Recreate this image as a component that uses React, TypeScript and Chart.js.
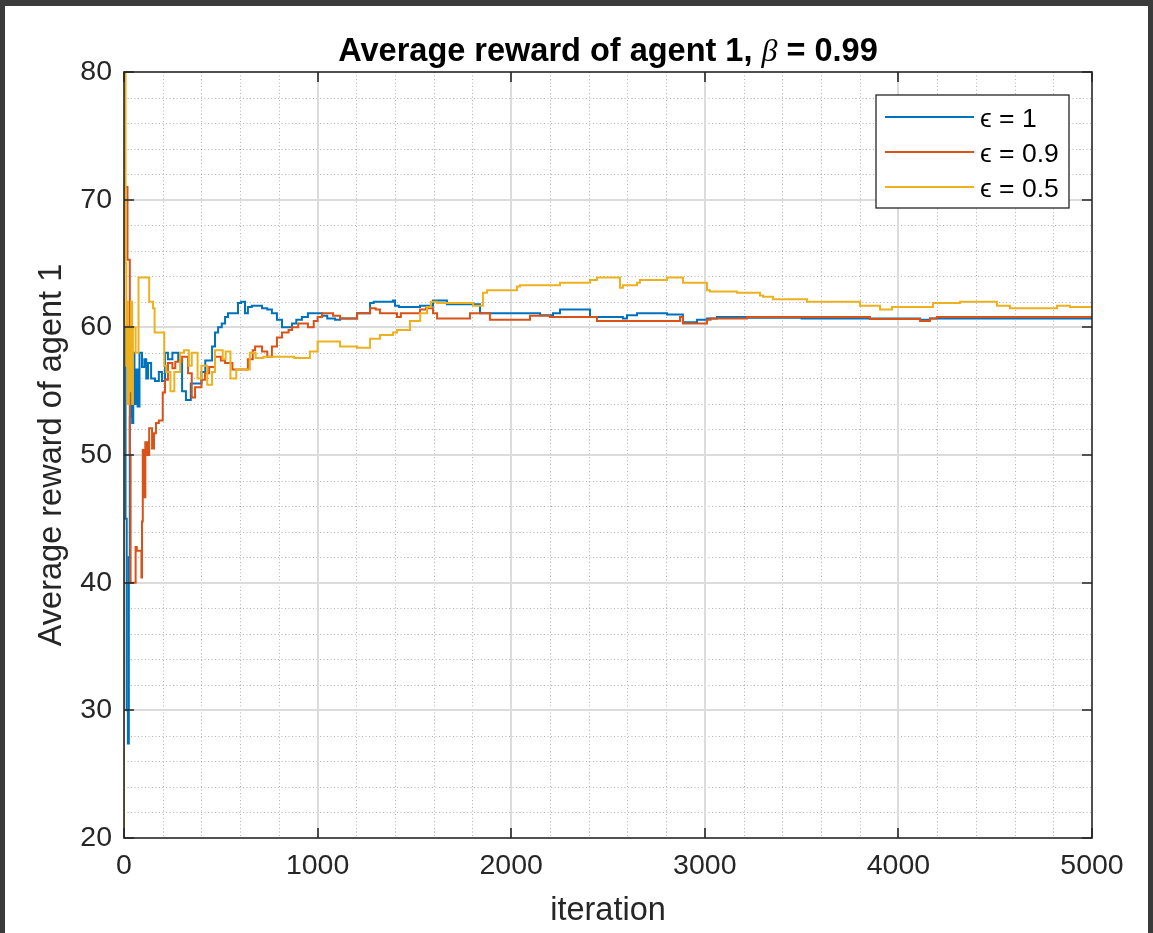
import React, { useEffect, useRef } from "react";
import { Chart, registerables } from "chart.js";

Chart.register(...registerables);

// ---------- text ----------
const TITLE_MAIN = "Average reward of agent 1, ";
const TITLE_BETA = "β";
const TITLE_TAIL = " = 0.99";
const X_LABEL = "iteration";
const Y_LABEL = "Average reward of agent 1";
const LEGEND_LABELS = ["ϵ = 1", "ϵ = 0.9", "ϵ = 0.5"];

// ---------- axes ----------
const X_MIN = 0;
const X_MAX = 5000;
const X_STEP = 1000;
const X_MINOR = 200;
const Y_MIN = 20;
const Y_MAX = 80;
const Y_STEP = 10;
const Y_MINOR = 2;

// ---------- series: epsilon = 1 ----------
const eps1Iter = [
  0, 8, 14, 20, 25, 30, 36, 42, 48, 54, 62, 70, 80, 93, 105, 115, 124, 140, 160, 180,
  196, 212, 227, 250, 280, 300, 320, 345, 367, 400, 420, 455, 470, 486, 505, 522, 537, 560, 589, 605,
  625, 640, 660, 677, 713, 740, 764, 790, 816, 840, 868, 890, 919, 950, 1000, 1023, 1050, 1090, 1116, 1160,
  1204, 1230, 1271, 1290, 1389, 1400, 1420, 1529, 1596, 1610, 1668, 1700, 1839, 1850, 2149, 2216, 2252, 2288, 2407, 2443,
  2577, 2598, 2650, 2805, 2887, 2960, 3011, 3063, 3218, 3500, 3853, 4112, 4163, 4850, 5000,
];
const eps1Reward = [
  58, 60, 45, 30, 27.4, 42, 53, 57, 52.5, 58, 54, 56.7, 53.8, 58, 56.9, 57.5, 56, 57.2, 56, 55.8,
  56.5, 55.8, 58, 57.5, 58, 57.4, 55, 54.3, 55.6, 55.6, 56.5, 57.4, 58.5, 59.6, 60, 60.3, 60.8, 61.1, 61.1, 61.9,
  62, 61.1, 61.6, 61.7, 61.7, 61.5, 61.4, 61.1, 60.6, 60, 60, 60.3, 60.6, 60.8, 61.1, 61.1, 60.9, 60.7, 60.6, 60.7,
  60.7, 61.1, 61.1, 61.9, 62, 62.1, 61.7, 61.6, 61.7, 62.1, 62.1, 61.8, 61.8, 61.1, 61.1, 60.95, 61.1, 61.4, 61.4, 60.8,
  60.8, 60.7, 60.95, 61.1, 61.0, 60.4, 60.6, 60.7, 60.8, 60.75, 60.7, 60.7, 60.6, 60.7, 60.7,
];

// ---------- series: epsilon = 0.9 ----------
const eps09Iter = [
  0, 18, 22, 30, 34, 37, 60, 66, 90, 93, 97, 106, 110, 120, 130, 145, 155, 165, 180, 200,
  212, 227, 250, 265, 300, 331, 350, 367, 400, 418, 440, 470, 500, 522, 560, 589, 640, 665, 677, 713,
  740, 764, 790, 816, 850, 868, 900, 950, 980, 1000, 1023, 1050, 1080, 1116, 1204, 1230, 1271, 1300, 1322, 1410,
  1430, 1462, 1529, 1560, 1596, 1617, 1668, 1787, 1800, 1890, 1900, 2097, 2110, 2200, 2216, 2443, 2526, 2872, 2887, 2908,
  3011, 3030, 3218, 3492, 3853, 3870, 4112, 4163, 4199, 4215, 5000,
];
const eps09Reward = [
  71, 71, 65.3, 65.3, 50, 40, 40, 42.8, 42.5, 40.4, 44.8, 50.4, 46.7, 51, 50, 52.1, 50.5, 51.7, 52.5, 52.7,
  54.9, 55.9, 57.2, 56.8, 57.3, 57.7, 56.4, 54.5, 55.3, 55.9, 56.4, 56.9, 57.7, 57.4, 57.2, 56.7, 56.7, 57.5, 58.2, 58.5,
  58.1, 57.7, 58.5, 59.2, 59.6, 59.8, 60, 60.3, 60, 60.5, 60.8, 61.1, 61.1, 60.9, 60.7, 61.1, 61.1, 61.5, 61.4, 61.1,
  60.8, 61.1, 61.1, 61.4, 61.5, 61.1, 60.7, 60.7, 61.1, 61.1, 60.6, 60.6, 60.9, 60.9, 60.8, 60.8, 60.5, 60.5, 60.8, 60.3,
  60.3, 60.6, 60.7, 60.8, 60.8, 60.65, 60.65, 60.5, 60.7, 60.8, 60.8,
];

// ---------- series: epsilon = 0.5 ----------
const eps05Iter = [
  0, 3, 8, 12, 16, 20, 25, 30, 36, 42, 46, 52, 60, 75, 93, 130, 135, 150, 158, 165,
  208, 218, 240, 260, 290, 310, 335, 350, 380, 400, 430, 455, 470, 510, 525, 550, 580, 610, 650, 680,
  720, 780, 880, 960, 1000, 1012, 1116, 1204, 1271, 1322, 1389, 1410, 1477, 1530, 1565, 1585, 1617, 1668, 1803, 1854,
  1875, 1942, 2030, 2045, 2113, 2252, 2288, 2407, 2443, 2562, 2577, 2650, 2665, 2805, 2887, 2908, 3011, 3027, 3166, 3285,
  3301, 3352, 3528, 3802, 3905, 3967, 3982, 4179, 4199, 4318, 4509, 4576, 4819, 4824, 4886, 4897, 5000,
];
const eps05Reward = [
  20, 80, 80, 65, 57, 62, 54, 60, 55, 62, 54, 60, 60, 58, 63.9, 63.9, 62, 62, 61.5, 59.6,
  59.6, 57, 56.5, 55, 56.5, 58, 58.2, 57, 58, 56, 57, 55.5, 56.5, 58.2, 57.5, 58.1, 56, 56.7, 56.7, 58,
  57.6, 57.7, 57.7, 57.6, 58.1, 58.9, 58.9, 58.5, 58.4, 59.1, 59.4, 59.6, 59.8, 60.5, 61.1, 61.6, 62, 61.9, 61.9, 61.7,
  62.7, 62.9, 62.9, 63.2, 63.3, 63.3, 63.5, 63.5, 63.7, 63.9, 63.1, 63.3, 63.5, 63.7, 63.9, 63.5, 63.5, 62.9, 62.8, 62.7,
  62.5, 62.4, 62.2, 62.0, 61.7, 61.4, 61.6, 61.6, 61.9, 61.9, 62, 61.7, 61.5, 61.7, 61.7, 61.6, 61.6,
];

const COLORS = ["#0072BD", "#D95319", "#EDB120"];
const AXIS_COLOR = "#262626";
const SANS = '"Liberation Sans", Arial, Helvetica, sans-serif';

const toPoints = (xs: number[], ys: number[]) => xs.map((x, i) => ({ x, y: ys[i] }));

const matlabPlugin = {
  id: "matlabAxes",
  beforeDatasetsDraw(chart: any) {
    const { ctx, chartArea: a, scales } = chart;
    const x = scales.x;
    const y = scales.y;
    ctx.save();
    // minor dotted grid
    ctx.strokeStyle = "rgba(38,38,38,0.35)";
    ctx.lineWidth = 1;
    ctx.setLineDash([1, 2.5]);
    ctx.beginPath();
    for (let v = X_MIN + X_MINOR; v < X_MAX; v += X_MINOR) {
      if (v % X_STEP === 0) continue;
      const px = Math.round(x.getPixelForValue(v)) + 0.5;
      ctx.moveTo(px, a.top);
      ctx.lineTo(px, a.bottom);
    }
    for (let v = Y_MIN + Y_MINOR; v < Y_MAX; v += Y_MINOR) {
      if (v % Y_STEP === 0) continue;
      const py = Math.round(y.getPixelForValue(v)) + 0.5;
      ctx.moveTo(a.left, py);
      ctx.lineTo(a.right, py);
    }
    ctx.stroke();
    // major grid
    ctx.setLineDash([]);
    ctx.strokeStyle = "#dcdcdc";
    ctx.lineWidth = 2;
    ctx.beginPath();
    for (let v = X_MIN + X_STEP; v < X_MAX; v += X_STEP) {
      const px = Math.round(x.getPixelForValue(v));
      ctx.moveTo(px, a.top);
      ctx.lineTo(px, a.bottom);
    }
    for (let v = Y_MIN + Y_STEP; v < Y_MAX; v += Y_STEP) {
      const py = Math.round(y.getPixelForValue(v));
      ctx.moveTo(a.left, py);
      ctx.lineTo(a.right, py);
    }
    ctx.stroke();
    ctx.restore();
  },
  afterDatasetsDraw(chart: any) {
    const { ctx, chartArea: a, scales } = chart;
    const x = scales.x;
    const y = scales.y;
    ctx.save();
    // box
    ctx.strokeStyle = AXIS_COLOR;
    ctx.lineWidth = 1.6;
    ctx.strokeRect(a.left, a.top, a.right - a.left, a.bottom - a.top);
    // ticks on all sides
    const tl = 10;
    ctx.beginPath();
    for (let v = X_MIN; v <= X_MAX; v += X_STEP) {
      const px = Math.round(x.getPixelForValue(v));
      ctx.moveTo(px, a.bottom);
      ctx.lineTo(px, a.bottom - tl);
      ctx.moveTo(px, a.top);
      ctx.lineTo(px, a.top + tl);
    }
    for (let v = Y_MIN; v <= Y_MAX; v += Y_STEP) {
      const py = Math.round(y.getPixelForValue(v));
      ctx.moveTo(a.left, py);
      ctx.lineTo(a.left + tl, py);
      ctx.moveTo(a.right, py);
      ctx.lineTo(a.right - tl, py);
    }
    ctx.stroke();

    // legend
    const lw = 193;
    const lh = 113;
    const lx = a.right - 23 - lw;
    const ly = a.top + 23;
    ctx.fillStyle = "#ffffff";
    ctx.fillRect(lx, ly, lw, lh);
    ctx.strokeStyle = AXIS_COLOR;
    ctx.lineWidth = 1.3;
    ctx.strokeRect(lx, ly, lw, lh);
    ctx.font = `26.5px ${SANS}, "DejaVu Sans"`;
    ctx.textBaseline = "middle";
    ctx.textAlign = "left";
    LEGEND_LABELS.forEach((lab, i) => {
      const rowY = ly + 22 + i * 35;
      ctx.strokeStyle = COLORS[i];
      ctx.lineWidth = 2;
      ctx.beginPath();
      ctx.moveTo(lx + 9, rowY);
      ctx.lineTo(lx + 98, rowY);
      ctx.stroke();
      ctx.fillStyle = "#000000";
      ctx.fillText(lab, lx + 104, rowY + 3);
    });
    ctx.restore();
  },
  afterDraw(chart: any) {
    const { ctx, chartArea: a } = chart;
    ctx.save();
    const fMain = `bold 32.5px ${SANS}`;
    const fBeta = `italic 32px "Liberation Serif", "DejaVu Serif", serif`;
    ctx.font = fMain;
    const w1 = ctx.measureText(TITLE_MAIN).width;
    const w3 = ctx.measureText(TITLE_TAIL).width;
    ctx.font = fBeta;
    const w2 = ctx.measureText(TITLE_BETA).width;
    const total = w1 + w2 + w3;
    let cx = (a.left + a.right) / 2 - total / 2;
    const baseY = 61;
    ctx.fillStyle = "#000000";
    ctx.textBaseline = "alphabetic";
    ctx.textAlign = "left";
    ctx.font = fMain;
    ctx.fillText(TITLE_MAIN, cx, baseY);
    cx += w1;
    ctx.font = fBeta;
    ctx.fillText(TITLE_BETA, cx, baseY);
    cx += w2;
    ctx.font = fMain;
    ctx.fillText(TITLE_TAIL, cx, baseY);
    ctx.restore();
  },
};

const lineStyle = (i: number) => ({
  borderColor: COLORS[i],
  borderWidth: 2,
  pointRadius: 0,
  fill: false,
  tension: 0,
  stepped: "after",
});

export default function App() {
  const ref = useRef<HTMLCanvasElement>(null);
  useEffect(() => {
    if (!ref.current) return;
    const chart = new Chart(ref.current, {
      type: "line",
      data: {
        datasets: [
          { label: LEGEND_LABELS[0], data: toPoints(eps1Iter, eps1Reward), ...lineStyle(0), order: 3 },
          { label: LEGEND_LABELS[1], data: toPoints(eps09Iter, eps09Reward), ...lineStyle(1), order: 2 },
          { label: LEGEND_LABELS[2], data: toPoints(eps05Iter, eps05Reward), ...lineStyle(2), order: 1 },
        ],
      },
      options: {
        animation: false,
        responsive: false,
        maintainAspectRatio: false,
        layout: { padding: { left: 0, top: 72, right: 61, bottom: 0 } },
        plugins: {
          legend: { display: false },
          tooltip: { enabled: false },
          title: { display: false },
        },
        scales: {
          x: {
            type: "linear",
            min: X_MIN,
            max: X_MAX,
            afterFit: (s: any) => {
              s.height = 95;
            },
            grid: { display: false, drawTicks: false },
            border: { display: false },
            ticks: {
              stepSize: X_STEP,
              padding: 11,
              color: AXIS_COLOR,
              maxRotation: 0,
              autoSkip: false,
              callback: (v: any) => String(v),
              font: { family: SANS, size: 28.5, lineHeight: 1.2 },
            },
            title: {
              display: true,
              text: X_LABEL,
              color: AXIS_COLOR,
              font: { family: SANS, size: 32.5, lineHeight: 1.2 },
              padding: { top: 0, bottom: 2 },
            },
          },
          y: {
            type: "linear",
            min: Y_MIN,
            max: Y_MAX,
            afterFit: (s: any) => {
              s.width = 124;
            },
            grid: { display: false, drawTicks: false },
            border: { display: false },
            ticks: {
              stepSize: Y_STEP,
              padding: 12,
              color: AXIS_COLOR,
              callback: (v: any) => String(v),
              font: { family: SANS, size: 28.5, lineHeight: 1.2 },
            },
            title: {
              display: true,
              text: Y_LABEL,
              color: AXIS_COLOR,
              font: { family: SANS, size: 32.5, lineHeight: 1.2 },
              padding: { top: 33, bottom: 0 },
            },
          },
        },
      },
      plugins: [matlabPlugin],
    } as any);
    return () => chart.destroy();
  }, []);

  return (
    <div
      style={{
        position: "absolute",
        left: 0,
        top: 0,
        width: 1153,
        height: 933,
        background: "#3b3b3b",
        overflow: "hidden",
      }}
    >
      <div
        style={{
          position: "absolute",
          left: 5,
          top: 6,
          width: 1143,
          height: 927,
          background: "#ffffff",
        }}
      />
      <canvas
        ref={ref}
        width={1153}
        height={933}
        style={{ position: "absolute", left: 0, top: 0, width: 1153, height: 933 }}
      />
    </div>
  );
}
